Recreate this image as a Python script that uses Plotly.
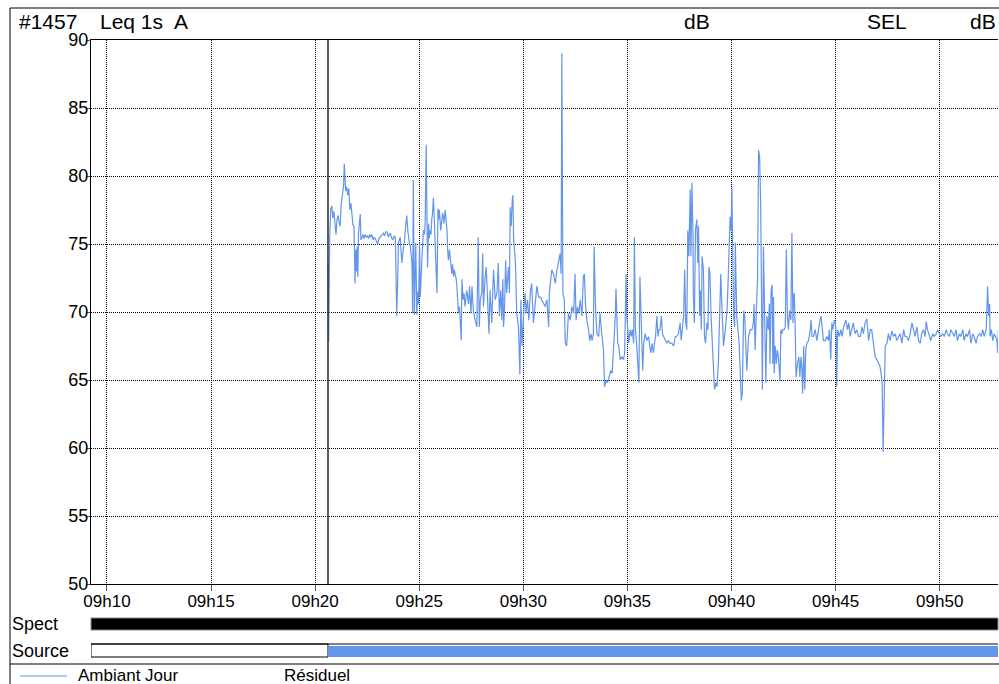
import pandas as pd
import plotly.graph_objects as go

# ---------------- data ----------------
base_time = "2024-01-01 09:20:00"
period_start_s = 37            # start of "Ambiant Jour" period (s after 09:20:00)
range_start = "2024-01-01 09:09:14"
range_end = "2024-01-01 09:52:48"

# seconds after 09:20:00
t_sec = [
    37, 39, 42, 45, 48, 51, 54, 57, 60, 63, 66, 69, 72, 75, 78, 80, 82, 84, 86, 88,
    91, 94, 97, 100, 103, 106, 109, 112, 114, 115, 117, 119, 121, 123, 125, 128, 130, 132, 135, 138,
    141, 144, 147, 150, 154, 157, 160, 163, 167, 170, 173, 176, 180, 184, 187, 190, 194, 197, 200, 204,
    207, 211, 215, 218, 221, 224, 227, 231, 233, 235, 238, 240, 245, 248, 250, 254, 257, 259, 262, 264,
    267, 269, 272, 274, 277, 279, 281, 283, 286, 288, 290, 293, 296, 298, 301, 303, 305, 308, 310, 312,
    315, 317, 320, 322, 324, 327, 329, 331, 334, 336, 338, 341, 343, 346, 348, 351, 354, 356, 358, 360,
    362, 365, 368, 371, 375, 377, 380, 382, 384, 387, 389, 392, 394, 396, 399, 401, 404, 406, 408, 411,
    413, 416, 418, 421, 423, 426, 429, 432, 437, 442, 445, 449, 452, 456, 461, 466, 470, 473, 476, 480,
    483, 485, 490, 493, 497, 501, 504, 509, 514, 519, 524, 528, 531, 535, 538, 541, 543, 546, 549, 552,
    557, 560, 562, 565, 568, 570, 572, 575, 577, 581, 586, 590, 593, 596, 599, 602, 605, 608, 612, 616,
    620, 624, 629, 634, 639, 644, 649, 653, 658, 663, 668, 673, 675, 679, 682, 687, 692, 697, 701, 706,
    709, 711, 714, 718, 721, 725, 730, 735, 740, 745, 749, 752, 756, 760, 764, 769, 773, 776, 779, 783,
    788, 791, 795, 798, 802, 804, 808, 812, 817, 821, 826, 831, 834, 839, 843, 848, 852, 856, 860, 865,
    867, 869, 872, 875, 879, 884, 889, 892, 894, 896, 898, 901, 904, 908, 911, 914, 918, 920, 923, 927,
    930, 933, 936, 939, 942, 944, 947, 951, 956, 961, 966, 968, 971, 975, 978, 981, 985, 988, 991, 994,
    998, 1001, 1004, 1009, 1014, 1018, 1023, 1028, 1033, 1038, 1042, 1047, 1052, 1055, 1058, 1062, 1065, 1068, 1071, 1074,
    1077, 1079, 1081, 1083, 1086, 1089, 1090, 1093, 1096, 1100, 1103, 1105, 1108, 1110, 1113, 1115, 1119, 1122, 1125, 1129,
    1132, 1135, 1138, 1141, 1145, 1148, 1151, 1155, 1158, 1162, 1165, 1169, 1173, 1177, 1182, 1187, 1190, 1193, 1196, 1199,
    1201, 1204, 1206, 1209, 1211, 1215, 1219, 1222, 1225, 1228, 1231, 1235, 1238, 1241, 1244, 1249, 1254, 1259, 1263, 1265,
    1268, 1271, 1275, 1278, 1281, 1284, 1286, 1289, 1292, 1295, 1299, 1302, 1306, 1309, 1311, 1314, 1317, 1319, 1321, 1323,
    1326, 1329, 1332, 1335, 1338, 1340, 1342, 1345, 1348, 1352, 1355, 1358, 1361, 1364, 1367, 1371, 1374, 1377, 1379, 1381,
    1384, 1386, 1390, 1394, 1397, 1400, 1403, 1405, 1408, 1411, 1414, 1417, 1422, 1427, 1429, 1432, 1436, 1441, 1446, 1451,
    1455, 1458, 1461, 1465, 1470, 1475, 1479, 1482, 1486, 1489, 1492, 1496, 1499, 1502, 1503, 1506, 1511, 1515, 1519, 1523,
    1527, 1530, 1534, 1538, 1542, 1547, 1551, 1556, 1561, 1566, 1571, 1576, 1580, 1585, 1590, 1595, 1600, 1604, 1609, 1614,
    1619, 1624, 1628, 1631, 1634, 1637, 1640, 1643, 1648, 1652, 1657, 1662, 1667, 1672, 1676, 1681, 1686, 1691, 1696, 1700,
    1705, 1710, 1715, 1720, 1724, 1729, 1734, 1739, 1744, 1748, 1753, 1758, 1761, 1765, 1771, 1774, 1780, 1784, 1790, 1794,
    1799, 1803, 1809, 1813, 1819, 1822, 1828, 1832, 1838, 1842, 1847, 1851, 1857, 1861, 1867, 1870, 1876, 1880, 1886, 1890,
    1895, 1899, 1905, 1909, 1915, 1919, 1924, 1928, 1934, 1938, 1941, 1944, 1945, 1949, 1953, 1957, 1961, 1965, 1967, 1969,
    1971,
]

leq_db = [
    73.6, 67.8, 75.5, 77.6, 77.8, 76.9, 77.4, 76.2, 75.7, 76.8, 77.1, 76.6, 76.3, 77.9, 78.6, 78.9, 79.3, 80.9, 79.6, 78.9,
    79.2, 78.6, 79.1, 77.5, 78.0, 77.2, 76.4, 76.3, 74.0, 72.1, 74.6, 73.0, 74.8, 72.6, 75.8, 76.6, 77.2, 75.3, 75.5, 75.7,
    75.4, 75.7, 75.5, 75.6, 75.4, 75.7, 75.5, 75.7, 75.3, 75.5, 75.4, 75.2, 75.0, 75.4, 75.5, 75.6, 75.7, 75.8, 75.6, 75.9,
    75.9, 75.5, 75.8, 75.7, 75.4, 75.3, 75.6, 75.5, 73.0, 69.7, 72.5, 75.1, 75.5, 74.6, 73.6, 74.6, 75.1, 75.8, 76.4, 77.1,
    76.0, 75.5, 75.0, 74.9, 74.3, 73.6, 69.9, 79.7, 69.8, 73.0, 75.1, 69.8, 71.5, 70.6, 75.1, 71.1, 72.8, 74.1, 75.0, 76.0,
    75.7, 76.5, 82.3, 76.0, 73.3, 76.5, 75.4, 76.0, 75.7, 76.8, 77.2, 78.4, 77.0, 76.0, 74.0, 71.4, 77.6, 76.8, 77.5, 76.6,
    76.0, 76.8, 77.3, 76.5, 77.5, 76.9, 76.0, 74.5, 73.8, 74.6, 74.1, 73.2, 72.8, 73.5, 72.6, 73.1, 72.8, 72.5, 72.1, 71.0,
    69.9, 70.4, 69.2, 67.9, 72.4, 70.9, 71.4, 70.4, 71.6, 70.6, 71.9, 69.9, 71.9, 70.1, 69.4, 68.9, 75.5, 68.9, 70.9, 71.4,
    74.3, 70.4, 72.6, 73.3, 70.9, 68.4, 71.6, 69.2, 73.1, 70.9, 71.4, 73.6, 69.7, 71.6, 69.4, 72.4, 68.9, 70.4, 73.8, 71.4,
    73.3, 71.4, 77.7, 76.3, 78.2, 78.6, 75.3, 74.1, 73.8, 69.9, 68.9, 65.4, 70.9, 67.5, 69.7, 70.4, 71.4, 69.9, 70.9, 69.4,
    71.4, 72.1, 69.2, 70.4, 71.9, 71.1, 71.1, 70.9, 70.6, 70.4, 70.9, 68.9, 71.4, 72.4, 73.1, 72.8, 72.1, 73.1, 73.8, 74.3,
    72.8, 89.0, 71.4, 70.9, 67.7, 67.5, 69.9, 69.4, 70.4, 69.9, 72.8, 69.4, 70.4, 69.9, 70.9, 69.7, 72.6, 72.8, 70.6, 69.4,
    68.7, 67.9, 68.4, 67.9, 68.4, 74.8, 70.4, 68.4, 68.2, 69.9, 68.4, 67.2, 64.5, 65.0, 64.8, 65.2, 65.7, 65.5, 67.2, 69.7,
    71.7, 70.4, 67.7, 67.5, 66.5, 66.7, 66.5, 67.0, 69.7, 72.8, 69.7, 68.4, 67.7, 68.7, 68.2, 68.7, 67.7, 75.5, 68.7, 67.5,
    66.2, 64.8, 72.6, 69.2, 67.5, 65.7, 67.7, 68.4, 67.9, 68.2, 67.2, 67.0, 67.7, 67.0, 67.7, 68.2, 69.7, 68.2, 68.7, 68.7,
    69.7, 68.4, 68.2, 67.9, 67.7, 67.9, 67.7, 67.7, 67.5, 68.2, 68.2, 68.4, 69.2, 67.9, 68.7, 69.7, 73.1, 69.2, 68.7, 76.0,
    74.1, 76.0, 79.0, 74.1, 79.5, 75.5, 71.1, 69.2, 76.0, 76.8, 73.6, 76.3, 69.7, 71.6, 68.7, 74.1, 73.1, 68.2, 67.7, 69.2,
    68.7, 73.3, 72.8, 69.7, 67.2, 65.2, 64.3, 64.8, 64.5, 66.2, 68.7, 72.8, 69.9, 67.5, 68.7, 70.1, 72.1, 74.1, 77.0, 76.0,
    79.2, 73.6, 69.7, 68.9, 75.1, 69.7, 68.7, 67.7, 65.7, 63.5, 64.0, 70.1, 69.7, 67.7, 65.7, 68.2, 68.7, 68.7, 69.2, 70.6,
    67.2, 69.7, 72.4, 81.9, 81.4, 78.0, 68.7, 64.3, 74.8, 71.1, 64.8, 69.7, 68.7, 70.6, 66.2, 71.6, 72.0, 66.2, 71.1, 65.5,
    67.5, 66.2, 67.2, 66.7, 65.7, 64.9, 68.7, 68.4, 68.7, 68.7, 68.9, 74.6, 69.7, 68.7, 70.1, 69.4, 75.8, 69.2, 71.1, 71.4,
    68.2, 65.2, 66.2, 66.7, 65.2, 66.7, 65.7, 64.0, 67.5, 64.3, 67.2, 67.7, 67.9, 68.7, 69.4, 68.2, 68.2, 68.7, 67.9, 68.9,
    69.4, 69.7, 68.7, 67.9, 67.9, 68.2, 67.9, 68.7, 66.5, 69.2, 68.7, 69.4, 69.2, 68.2, 64.5, 68.7, 68.2, 68.7, 68.2, 68.9,
    69.2, 69.4, 68.7, 69.2, 68.2, 68.7, 69.2, 68.4, 68.7, 68.2, 68.2, 68.9, 68.4, 69.2, 69.5, 67.9, 68.7, 68.7, 67.7, 66.7,
    66.5, 66.2, 66.0, 65.5, 64.8, 59.7, 65.7, 67.5, 67.7, 68.4, 67.9, 68.6, 68.2, 68.4, 67.9, 68.2, 68.4, 67.7, 68.7, 68.2,
    68.2, 67.9, 68.4, 69.2, 68.7, 68.2, 68.9, 67.9, 67.7, 68.4, 68.7, 68.2, 69.3, 68.7, 68.2, 67.9, 68.4, 68.2, 68.4, 68.7,
    68.4, 68.2, 68.4, 68.2, 68.7, 68.4, 68.2, 68.7, 68.4, 68.2, 68.7, 67.9, 68.4, 68.2, 68.7, 67.9, 68.4, 68.2, 68.7, 67.7,
    68.4, 68.2, 67.7, 68.2, 68.4, 68.2, 68.7, 68.2, 68.7, 71.9, 69.7, 70.6, 68.2, 68.7, 67.9, 68.4, 68.2, 67.9, 67.0, 68.7,
    68.4,
]

series_name = "Ambiant Jour"
other_legend = "Résiduel"
header_id = "#1457"
header_metric = "Leq 1s"
header_weight = "A"
header_unit = "dB"
header_sel = "SEL"
row_labels = ["Spect", "Source"]
y_ticks = [50, 55, 60, 65, 70, 75, 80, 85, 90]

# ---------------- figure ----------------
t0 = pd.Timestamp(base_time)
times = t0 + pd.to_timedelta(t_sec, unit="s")
period_start = t0 + pd.to_timedelta(period_start_s, unit="s")

BLUE = "#6495ED"
FONT = "Arial, Liberation Sans, sans-serif"
W, H = 999, 684
L, R, T, B = 91, 1, 40, 100
PW, PH = W - L - R, H - T - B


def PX(x):
    return (x - L) / PW


def PY(y):
    return (H - B - y) / PH


fig = go.Figure()
fig.add_trace(go.Scatter(x=times, y=leq_db, mode="lines", name=series_name,
                         line=dict(color=BLUE, width=1.2), hoverinfo="skip"))

shapes = []
# outer frame lines
shapes.append(dict(type="line", xref="paper", yref="paper", x0=PX(10), x1=PX(999),
                   y0=PY(8), y1=PY(8), line=dict(color="black", width=1)))
shapes.append(dict(type="line", xref="paper", yref="paper", x0=PX(10), x1=PX(10),
                   y0=PY(8), y1=PY(684), line=dict(color="black", width=1)))
shapes.append(dict(type="line", xref="paper", yref="paper", x0=PX(10), x1=PX(999),
                   y0=PY(664), y1=PY(664), line=dict(color="black", width=1)))
# period start vertical line
shapes.append(dict(type="line", xref="x", yref="paper", x0=period_start, x1=period_start,
                   y0=0, y1=1, line=dict(color="#333333", width=1.6)))
# Spect bar
shapes.append(dict(type="rect", xref="paper", yref="paper", x0=0, x1=1,
                   y0=PY(630), y1=PY(618), fillcolor="black",
                   line=dict(color="#888888", width=1)))
# Source bar: white part then blue part
shapes.append(dict(type="rect", xref="x", yref="paper", x0=range_start, x1=period_start,
                   y0=PY(657), y1=PY(644), fillcolor="white",
                   line=dict(color="black", width=1)))
shapes.append(dict(type="line", xref="paper", yref="paper", x0=0, x1=1,
                   y0=PY(644), y1=PY(644), line=dict(color="black", width=1)))
shapes.append(dict(type="rect", xref="x", yref="paper", x0=period_start, x1=range_end,
                   y0=PY(657), y1=PY(646), fillcolor=BLUE, line=dict(width=0)))
# legend line sample
shapes.append(dict(type="line", xref="paper", yref="paper", x0=PX(20), x1=PX(67),
                   y0=PY(676), y1=PY(676), line=dict(color=BLUE, width=1)))

ann = []


def text(s, x, y, size=17, anchor="left"):
    ann.append(dict(text=s, xref="paper", yref="paper", x=PX(x), y=PY(y),
                    xanchor=anchor, yanchor="middle", showarrow=False,
                    font=dict(family=FONT, size=size, color="black")))


text(header_id, 17, 22, 21)
text(header_metric, 98, 22, 21)
text(header_weight, 172, 22, 21)
text(header_unit, 697, 22, 21, "center")
text(header_sel, 887, 22, 21, "center")
text(header_unit, 983, 22, 21, "center")
text(row_labels[0], 10, 624, 18)
text(row_labels[1], 10, 651, 18)
text(series_name, 76, 675, 17)
text(other_legend, 282, 675, 17)

fig.update_layout(
    width=W, height=H,
    margin=dict(l=L, r=R, t=T, b=B, pad=0),
    paper_bgcolor="white", plot_bgcolor="white",
    showlegend=False,
    shapes=shapes, annotations=ann,
    font=dict(family=FONT, size=17, color="black"),
    xaxis=dict(
        type="date", range=[range_start, range_end],
        tick0="2024-01-01 09:10:00", dtick=300000, tickformat="%Hh%M",
        showgrid=True, gridcolor="black", griddash="1px,1px", gridwidth=1,
        showline=True, linecolor="black", linewidth=1, mirror=True,
        ticks="outside", ticklen=6, tickcolor="#555555", tickwidth=1,
        ticklabelstandoff=-4,
        tickfont=dict(family=FONT, size=17, color="black"),
        zeroline=False,
    ),
    yaxis=dict(
        range=[50, 90], tickvals=y_ticks,
        showgrid=True, gridcolor="black", griddash="1px,1px", gridwidth=1,
        showline=True, linecolor="black", linewidth=1,
        ticks="outside", ticklen=4, tickcolor="#555555", tickwidth=1,
        ticklabelstandoff=-6,
        tickfont=dict(family=FONT, size=18, color="black"),
        zeroline=False,
    ),
)

fig.write_html(
    "out.html",
    config={"displayModeBar": False, "staticPlot": True},
    post_script="document.body.style.margin='0';document.body.style.overflow='hidden';"
                "document.documentElement.style.overflow='hidden';",
)
